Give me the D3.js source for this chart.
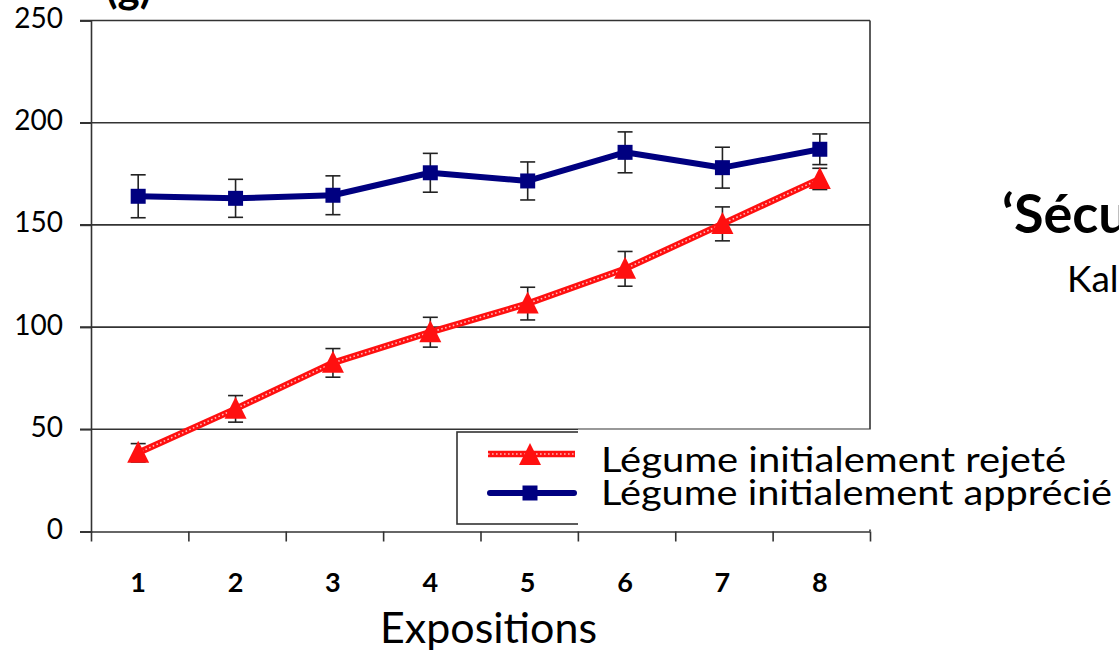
<!DOCTYPE html>
<html>
<head>
<meta charset="utf-8">
<script src="https://cdn.jsdelivr.net/npm/d3@7"></script>
<style>
  html, body { margin: 0; padding: 0; background: #fff; }
  svg { display: block; }
</style>
</head>
<body>
<svg id="chart" width="1119" height="655"></svg>
<script>
// ---- data ----
const categories = ["1", "2", "3", "4", "5", "6", "7", "8"];
const yTicks = [0, 50, 100, 150, 200, 250];
const likedValues = [164, 163, 164.5, 175.5, 171.5, 185.5, 178, 187];
const likedErrors = [10.5, 9.3, 9.5, 9.5, 9.3, 10, 10, 7.5];
const rejectedValues = [38.5, 60, 82.5, 97.5, 111.5, 128.5, 150.5, 172.5];
const rejectedErrors = [4.5, 6.5, 7, 7.3, 8, 8.5, 8.3, 5.2];
const legendLabels = ["Légume initialement rejeté", "Légume initialement apprécié"];
const xTitle = "Expositions";
const yUnit = "(g)";
const sideTitle = "‘Sécu";
const sideSub = "Kal";

// ---- layout ----
const svg = d3.select("#chart");
const pLeft = 91, pRight = 870, pTop = 20.5, pBottom = 531.5;
const font = "Lato, 'Open Sans', sans-serif";
const axisColor = "#333";

const x = d3.scaleBand().domain(categories).range([pLeft - 1.5, pRight - 1.5]);
const xEdges = d3.scaleLinear().domain([0, categories.length]).range([pLeft, pRight]);
const y = d3.scaleLinear().domain([0, 250]).range([pBottom, pTop]);
const cx = c => x(c) + x.bandwidth() / 2;

// gridlines (incl. top border)
svg.append("g").selectAll("line").data(yTicks.filter(t => t > 0)).join("line")
  .attr("x1", pLeft - 11).attr("x2", pRight)
  .attr("y1", d => y(d)).attr("y2", d => y(d))
  .attr("stroke", axisColor).attr("stroke-width", 1.6);

// right border
svg.append("line").attr("x1", pRight).attr("x2", pRight)
  .attr("y1", y(250)).attr("y2", y(0))
  .attr("stroke", axisColor).attr("stroke-width", 1.6);

// y axis
const yAxis = svg.append("g").attr("transform", `translate(${pLeft},0)`)
  .call(d3.axisLeft(y).tickValues(yTicks).tickSize(11).tickPadding(17).tickFormat(d3.format("d")));
yAxis.select(".domain").attr("stroke", axisColor).attr("stroke-width", 1.6);
yAxis.selectAll(".tick line").attr("stroke", axisColor).attr("stroke-width", 1.6);
yAxis.selectAll(".tick text").attr("font-family", font).attr("font-size", 28)
  .attr("fill", "#000").attr("dy", "0.25em");

// x axis edges (ticks at category boundaries)
const xAxisEdges = svg.append("g").attr("transform", `translate(0,${pBottom})`)
  .call(d3.axisBottom(xEdges).tickValues(d3.range(0, categories.length + 1)).tickSize(10).tickFormat(""));
xAxisEdges.select(".domain").attr("stroke", axisColor).attr("stroke-width", 1.6)
  .attr("d", `M${pLeft - 11},0.5H${pRight}`);
xAxisEdges.selectAll(".tick line").attr("stroke", axisColor).attr("stroke-width", 1.6);

// x labels
const xAxisLabels = svg.append("g").attr("transform", `translate(0,${pBottom})`)
  .call(d3.axisBottom(x).tickSize(0).tickPadding(0));
xAxisLabels.select(".domain").remove();
xAxisLabels.selectAll(".tick text").attr("font-family", font).attr("font-size", 27)
  .attr("font-weight", 700).attr("fill", "#000").attr("y", 60).attr("dy", 0);

// x title
svg.append("text").attr("x", 380).attr("y", 643)
  .attr("font-family", font).attr("font-size", 43).attr("fill", "#000")
  .attr("textLength", 217).attr("lengthAdjust", "spacingAndGlyphs").text(xTitle);

// unit label (cut at top, as in the reference)
svg.append("text").attr("x", 106).attr("y", 3)
  .attr("font-family", font).attr("font-size", 42).attr("font-weight", 700).attr("fill", "#000")
  .text(yUnit);

// error bars
function errorBars(values, errors) {
  const g = svg.append("g").attr("stroke", "#222").attr("stroke-width", 1.6).attr("fill", "none");
  values.forEach((v, i) => {
    const c = cx(categories[i]);
    const y1 = y(v + errors[i]), y2 = y(v - errors[i]);
    g.append("line").attr("x1", c).attr("x2", c).attr("y1", y1).attr("y2", y2);
    g.append("line").attr("x1", c - 7.5).attr("x2", c + 7.5).attr("y1", y1).attr("y2", y1);
    g.append("line").attr("x1", c - 7.5).attr("x2", c + 7.5).attr("y1", y2).attr("y2", y2);
  });
}

const line = d3.line().x((d, i) => cx(categories[i])).y(d => y(d));
const blue = "#000080", red = "#ff1010";

// blue line
svg.append("path").datum(likedValues).attr("d", line)
  .attr("fill", "none").attr("stroke", blue).attr("stroke-width", 6).attr("stroke-linejoin", "round");
// red textured line
const rl = svg.append("g").datum(rejectedValues);
rl.append("path").attr("fill", "none").attr("stroke", red).attr("stroke-width", 6.5);
rl.append("path").attr("fill", "none").attr("stroke", "#ffb8b8").attr("stroke-width", 1.6)
  .attr("stroke-dasharray", "1.6,2.4");
rl.selectAll("path").attr("d", line);

errorBars(likedValues, likedErrors);
errorBars(rejectedValues, rejectedErrors);

// markers
const squarePath = d3.symbol().type(d3.symbolSquare).size(225)();
const triPath = "M0,-12L11,10L-11,10Z";
svg.append("g").selectAll("path").data(likedValues).join("path")
  .attr("d", squarePath).attr("fill", blue)
  .attr("transform", (d, i) => `translate(${cx(categories[i])},${y(d)})`);
svg.append("g").selectAll("path").data(rejectedValues).join("path")
  .attr("d", triPath).attr("fill", red)
  .attr("transform", (d, i) => `translate(${cx(categories[i])},${y(d)})`);

// legend box
svg.append("rect").attr("x", 457).attr("y", 432).attr("width", 200).attr("height", 92)
  .attr("fill", "#fff").attr("stroke", axisColor).attr("stroke-width", 1.6);
// white text overlay
svg.append("rect").attr("x", 578).attr("y", 429.5).attr("width", 541).attr("height", 100)
  .attr("fill", "#fff");

// legend symbols
const lgR = svg.append("g");
lgR.append("path").attr("fill", "none").attr("stroke", red).attr("stroke-width", 6.5)
  .attr("d", "M488,454H575");
lgR.append("path").attr("fill", "none").attr("stroke", "#ffb8b8").attr("stroke-width", 1.6)
  .attr("stroke-dasharray", "1.6,2.4").attr("d", "M488,454H575");
lgR.append("path").attr("d", triPath).attr("fill", red).attr("transform", "translate(530,455)");
const lgB = svg.append("g");
lgB.append("path").attr("fill", "none").attr("stroke", blue).attr("stroke-width", 6)
  .attr("stroke-linecap", "round").attr("d", "M490,493H574");
lgB.append("path").attr("d", squarePath).attr("fill", blue).attr("transform", "translate(530,493)");

// legend labels
svg.append("text").attr("x", 601).attr("y", 472)
  .attr("font-family", font).attr("font-size", 35).attr("fill", "#000")
  .attr("textLength", 465).attr("lengthAdjust", "spacingAndGlyphs").text(legendLabels[0]);
svg.append("text").attr("x", 601).attr("y", 505)
  .attr("font-family", font).attr("font-size", 35).attr("fill", "#000")
  .attr("textLength", 511).attr("lengthAdjust", "spacingAndGlyphs").text(legendLabels[1]);

// side texts (cut at right edge, as in the reference)
svg.append("text").attr("x", 1002).attr("y", 233)
  .attr("font-family", font).attr("font-size", 54).attr("font-weight", 700).attr("fill", "#000")
  .text(sideTitle);
svg.append("text").attr("x", 1067).attr("y", 292)
  .attr("font-family", font).attr("font-size", 37).attr("fill", "#000")
  .text(sideSub);
</script>
</body>
</html>
